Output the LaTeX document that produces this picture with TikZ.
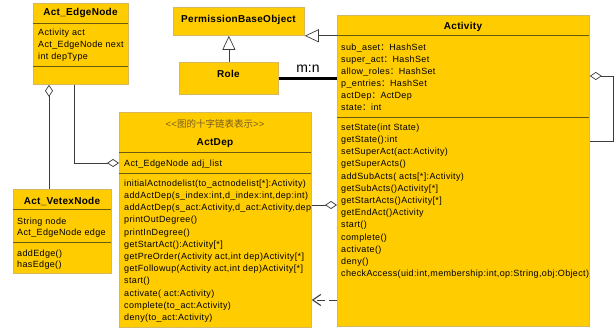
\documentclass[tikz,border=0pt]{standalone}
\usepackage{fontspec}
\setmainfont{Liberation Sans}
\newfontfamily\membfont[LetterSpace=4]{Liberation Sans}
\newfontfamily\titlefont[LetterSpace=3]{Liberation Sans}
\newfontfamily\cjk{Noto Sans CJK SC}
\usetikzlibrary{arrows.meta}

\definecolor{umlfill}{HTML}{FFCC00}
\definecolor{umledge}{HTML}{D6B862}
\definecolor{umlsep}{HTML}{6E5A10}
\definecolor{wire}{HTML}{3C3C3C}
\definecolor{stereo}{HTML}{7A5E20}

\tikzset{
  cls/.style={draw=umledge, fill=umlfill, line width=0.8pt, inner sep=0pt, anchor=north west},
  sep/.style={draw=umlsep, line width=0.8pt},
  ttl/.style={font=\titlefont\fontsize{10}{12}\selectfont\bfseries, inner sep=0pt},
  mem/.style={font=\membfont\fontsize{9}{11}\selectfont, anchor=west, inner sep=0pt,
              text height=6.5pt, text depth=2pt},
  wirestyle/.style={draw=wire, line width=0.7pt},
  aggr/.style={wirestyle, -{Diamond[open, length=12pt, width=8pt, fill=white]}},
  gen/.style={wirestyle, -{Triangle[open, length=14pt, width=13pt, fill=white]}},
  depend/.style={wirestyle, dash pattern=on 8pt off 4pt, line width=1pt,
                 -{Straight Barb[length=8pt, width=11pt, line width=1.1pt]}},
  assoc/.style={draw=black, line width=2.6pt},
}

\begin{document}
\begin{tikzpicture}[x=1pt, y=-1pt]
\useasboundingbox (0,0) rectangle (616,329);

% ---------- class boxes ----------
\node[cls, minimum width=95pt,  minimum height=81pt]  (edge)  at (33,3)   {};
\node[cls, minimum width=98pt,  minimum height=84pt]  (vetex) at (13,189) {};
\node[cls, minimum width=131pt, minimum height=28pt]  (pbo)   at (173,7)  {};
\node[cls, minimum width=99pt,  minimum height=32pt]  (role)  at (179,62) {};
\node[cls, minimum width=192pt, minimum height=215pt] (dep)   at (119,112){};
\node[cls, minimum width=252pt, minimum height=311pt] (act)   at (337,15) {};

% ---------- compartments ----------
\draw[sep] (33,23) -- (128,23);
\draw[sep] (33,66) -- (128,66);
\draw[sep] (13,209) -- (111,209);
\draw[sep] (13,242) -- (111,242);
\draw[sep] (119,152) -- (311,152);
\draw[sep] (119,173) -- (311,173);
\draw[sep] (337,35) -- (589,35);
\draw[sep] (337,117) -- (589,117);

% ---------- titles ----------
\node[ttl] (edge-t)  at (80.5,13)  {Act\_EdgeNode};
\node[ttl] (vetex-t) at (62,201)   {Act\_VetexNode};
\node[ttl] (pbo-t)   at (238.5,20) {PermissionBaseObject};
\node[ttl] (role-t)  at (228.5,74) {Role};
\node[ttl] (dep-t)   at (215,143)  {ActDep};
\node[ttl] (act-t)   at (463,27)   {Activity};
\node[inner sep=0pt, text=stereo, font=\membfont\fontsize{9.5}{11}\selectfont] (dep-s) at (215,124)
  {<{}<{\cjk 图的十字链表表示}>{}>};

% ---------- Act_EdgeNode members ----------
\foreach \t [count=\i] in {Activity act, Act\_EdgeNode next, int depType}
  \node[mem] (edge-a\i) at (38,{33+12*(\i-1)}) {\t};

% ---------- Act_VetexNode members ----------
\foreach \t [count=\i] in {String node, Act\_EdgeNode edge}
  \node[mem] (vetex-a\i) at (17,{222+11.5*(\i-1)}) {\t};
\foreach \t [count=\i] in {addEdge(), hasEdge()}
  \node[mem] (vetex-m\i) at (17,{254+11.5*(\i-1)}) {\t};

% ---------- ActDep members ----------
\node[mem] (dep-a1) at (124,164) {Act\_EdgeNode adj\_list};
\begin{scope}
  \clip (119,173) rectangle (311,327);
  \foreach \t [count=\i] in {
      {initialActnodelist(to\_actnodelist[*]:Activity)},
      {addActDep(s\_index:int,d\_index:int,dep:int)},
      {addActDep(s\_act:Activity,d\_act:Activity,dep:int)},
      {printOutDegree()},
      {printInDegree()},
      {getStartAct():Activity[*]},
      {getPreOrder(Activity act,int dep)Activity[*]},
      {getFollowup(Activity act,int dep)Activity[*]},
      {start()},
      {activate( act:Activity)},
      {complete(to\_act:Activity)},
      {deny(to\_act:Activity)}}
    \node[mem] (dep-m\i) at (124,{184+12.2*(\i-1)}) {\t};
\end{scope}

% ---------- Activity members ----------
\foreach \t [count=\i] in {
    {sub\_aset{\cjk ：}HashSet},
    {super\_act{\cjk ：}HashSet},
    {allow\_roles{\cjk ：}HashSet},
    {p\_entries{\cjk ：}HashSet},
    {actDep{\cjk ：}ActDep},
    {state{\cjk ：}int}}
  \node[mem] (act-a\i) at (341,{48+12*(\i-1)}) {\t};
\foreach \t [count=\i] in {
    {setState(int State)},
    {getState():int},
    {setSuperAct(act:Activity)},
    {getSuperActs()},
    {addSubActs( acts[*]:Activity)},
    {getSubActs()Activity[*]},
    {getStartActs()Activity[*]},
    {getEndAct()Activity},
    {start()},
    {complete()},
    {activate()},
    {deny()},
    {checkAccess(uid:int,membership:int,op:String,obj:Object)}}
  \node[mem] (act-m\i) at (341,{128+12.2*(\i-1)}) {\t};

% ---------- connectors ----------
\coordinate (e1) at (49,100);
\coordinate (e2) at (74,163);
\coordinate (a1) at (320,205);
\coordinate (d1) at (320,300);
\coordinate (s1) at (613,76);
\coordinate (s2) at (613,141);

% generalizations
\draw[gen] (role.north) -- (role.north |- pbo.south);
\draw[gen] (act.west |- pbo.south east) -- (pbo.south east);

% association Role -- Activity
\draw[assoc] (role.east) -- (role.east -| act.west);
\node[inner sep=0pt, font=\fontsize{14}{16}\selectfont] (mn) at (308,69) {m:n};

% aggregations
\draw[aggr] (vetex.north -| e1) -- (edge.south -| e1);
\draw[aggr] (edge.south -| e2) -- (e2) -- (dep.west |- e2);
\draw[aggr] (dep.east |- a1) -- (act.west |- a1);
\draw[aggr] (act.east |- s2) -- (s2) -- (s1) -- (act.east |- s1);

% dependency
\draw[depend] (act.west |- d1) -- (dep.east |- d1);
\end{tikzpicture}
\end{document}
